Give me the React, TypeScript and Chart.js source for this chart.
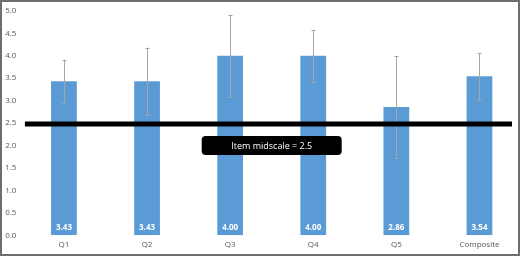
import React, { useEffect, useRef } from "react";
import { Chart, registerables } from "chart.js";

Chart.register(...registerables);

const categories = ["Q1", "Q2", "Q3", "Q4", "Q5", "Composite"];
const means = [3.43, 3.43, 4.0, 4.0, 2.86, 3.54];
const errors = [0.48, 0.75, 0.91, 0.58, 1.13, 0.52];
const yTicks = [0, 0.5, 1, 1.5, 2, 2.5, 3, 3.5, 4, 4.5, 5];
const midscale = 2.5;
const midscaleLabel = "Item midscale = 2.5";
const labelAt = { between: [2, 3], value: 2.0 };

const FONT = "'Open Sans', 'Noto Sans', sans-serif";

const overlayPlugin = {
  id: "overlay",
  afterDatasetsDraw(chart: any) {
    const ctx = chart.ctx;
    const x = chart.scales.x;
    const y = chart.scales.y;
    const meta = chart.getDatasetMeta(0);
    const area = chart.chartArea;
    ctx.save();
    // error bars
    ctx.strokeStyle = "#a6a6a6";
    ctx.lineWidth = 1;
    meta.data.forEach((bar: any, i: number) => {
      const cx = Math.round(bar.x) + 0.5;
      const top = y.getPixelForValue(means[i] + errors[i]);
      const bot = y.getPixelForValue(means[i] - errors[i]);
      ctx.beginPath();
      ctx.moveTo(cx, top);
      ctx.lineTo(cx, bot);
      ctx.moveTo(cx - 2, Math.round(top) + 0.5);
      ctx.lineTo(cx + 2, Math.round(top) + 0.5);
      ctx.moveTo(cx - 2, Math.round(bot) + 0.5);
      ctx.lineTo(cx + 2, Math.round(bot) + 0.5);
      ctx.stroke();
    });
    // data labels
    ctx.fillStyle = "#ffffff";
    ctx.font = `bold 8px ${FONT}`;
    ctx.textAlign = "center";
    ctx.textBaseline = "middle";
    meta.data.forEach((bar: any, i: number) => {
      ctx.fillText(means[i].toFixed(2), bar.x, bar.base - 8);
    });
    // midscale line
    const my = y.getPixelForValue(midscale) + 1;
    ctx.strokeStyle = "#000000";
    ctx.lineWidth = 5;
    ctx.beginPath();
    ctx.moveTo(area.left + 2.5, my);
    ctx.lineTo(area.right - 9, my);
    ctx.stroke();
    // label box
    const bx =
      (x.getPixelForValue(labelAt.between[0]) + x.getPixelForValue(labelAt.between[1])) / 2;
    const by = y.getPixelForValue(labelAt.value);
    const w = 140;
    const h = 19;
    ctx.fillStyle = "#000000";
    ctx.beginPath();
    (ctx as any).roundRect(bx - w / 2, by - h / 2, w, h, 4);
    ctx.fill();
    ctx.fillStyle = "#ffffff";
    ctx.font = `9px ${FONT}`;
    ctx.fillText(midscaleLabel, bx, by + 0.5);
    ctx.restore();
  },
};

export default function App() {
  const ref = useRef<HTMLCanvasElement | null>(null);
  useEffect(() => {
    document.body.style.margin = "0";
    const chart = new Chart(ref.current as HTMLCanvasElement, {
      type: "bar",
      data: {
        labels: categories,
        datasets: [
          {
            data: means,
            backgroundColor: "#5b9bd5",
            categoryPercentage: 1,
            barPercentage: 0.31,
          },
        ],
      },
      options: {
        animation: false,
        responsive: false,
        devicePixelRatio: 1,
        layout: { padding: { top: 10, right: 1, left: 0, bottom: 0 } },
        plugins: { legend: { display: false }, tooltip: { enabled: false } },
        scales: {
          x: {
            grid: { display: false, drawTicks: false },
            border: { display: false },
            ticks: { color: "#595959", font: { family: FONT, size: 8 }, padding: 5 },
            afterFit(s: any) {
              s.height = 20.7;
            },
          },
          y: {
            min: 0,
            max: 5,
            grid: { display: false, drawTicks: false },
            border: { display: false },
            afterBuildTicks(s: any) {
              s.ticks = yTicks.map((v) => ({ value: v }));
            },
            ticks: {
              color: "#595959",
              font: { family: FONT, size: 8 },
              padding: 6,
              callback: (v: any) => Number(v).toFixed(1),
            },
            afterFit(s: any) {
              s.width = 22.4;
            },
          },
        },
      },
      plugins: [overlayPlugin],
    });
    return () => chart.destroy();
  }, []);
  return (
    <div style={{ position: "relative", width: 520, height: 256, overflow: "hidden", background: "#fff" }}>
      <canvas ref={ref} width={522} height={256} style={{ display: "block" }} />
      <div
        style={{
          position: "absolute",
          inset: 0,
          border: "2px solid #6e6e6e",
          boxSizing: "border-box",
          pointerEvents: "none",
        }}
      />
    </div>
  );
}
